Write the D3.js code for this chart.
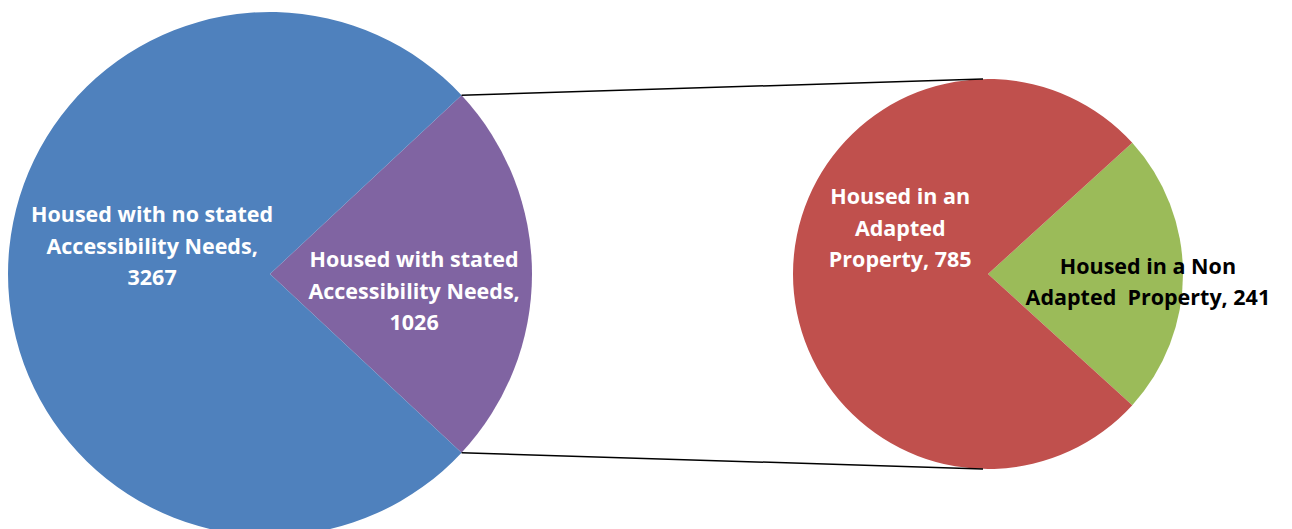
<!DOCTYPE html>
<html>
<head>
<meta charset="utf-8">
<script src="https://cdn.jsdelivr.net/npm/d3@7"></script>
<style>
  html, body { margin: 0; padding: 0; background: #fff; }
  svg { display: block; }
  .lbl { font-family: "Open Sans", "Noto Sans", sans-serif; font-weight: bold; font-size: 21.5px; }
</style>
</head>
<body>
<svg id="chart" width="1292" height="529"></svg>
<script>
// main pie
const mainCategories = ['Housed with stated Accessibility Needs', 'Housed with no stated Accessibility Needs'];
const mainValues = [1026, 3267];
const mainLabels = [
  ['Housed with stated', 'Accessibility Needs,', '1026'],
  ['Housed with no stated', 'Accessibility Needs,', '3267']
];

// breakdown pie (of the 1026)
const subCategories = ['Housed in a Non Adapted Property', 'Housed in an Adapted Property'];
const subValues = [241, 785];
const subLabels = [
  ['Housed in a Non', 'Adapted  Property, 241'],
  ['Housed in an', 'Adapted', 'Property, 785']
];

const mainColors = ['#8064A2', '#4F81BD'];
const subColors = ['#9BBB59', '#C0504D'];

const svg = d3.select('#chart');

const main = { cx: 270, cy: 274, r: 262 };
const sub = { cx: 988, cy: 274, r: 195 };

// both pies have the first slice centred on 3 o'clock
function layout(values) {
  const total = d3.sum(values);
  const first = values[0] / total * 2 * Math.PI;
  const start = Math.PI / 2 - first / 2;
  return d3.pie().sort(null).startAngle(start).endAngle(start + 2 * Math.PI)(values);
}

const mainArcs = layout(mainValues);
const subArcs = layout(subValues);

const mainArc = d3.arc().innerRadius(0).outerRadius(main.r);
const subArc = d3.arc().innerRadius(0).outerRadius(sub.r);

const gMain = svg.append('g').attr('transform', `translate(${ main.cx }, ${ main.cy })`);
const gSub = svg.append('g').attr('transform', `translate(${ sub.cx }, ${ sub.cy })`);

gMain.selectAll('path')
  .data(mainArcs)
  .enter()
  .append('path')
  .attr('d', mainArc)
  .attr('fill', (d, i) => mainColors[i]);

gSub.selectAll('path')
  .data(subArcs)
  .enter()
  .append('path')
  .attr('d', subArc)
  .attr('fill', (d, i) => subColors[i]);

// connector lines from the exploded slice edges to top / bottom of the second pie
const split = mainArcs[0];
const edge = a => [main.cx + main.r * Math.sin(a), main.cy - main.r * Math.cos(a)];
const p1 = edge(split.startAngle);
const p2 = edge(split.endAngle);
svg.append('line')
  .attr('x1', p1[0]).attr('y1', p1[1])
  .attr('x2', sub.cx - 5).attr('y2', sub.cy - sub.r)
  .attr('stroke', '#000').attr('stroke-width', 1.5);
svg.append('line')
  .attr('x1', p2[0]).attr('y1', p2[1])
  .attr('x2', sub.cx - 5).attr('y2', sub.cy + sub.r)
  .attr('stroke', '#000').attr('stroke-width', 1.5);

// labels: centroid at a fraction of the radius, nudged like Excel's best fit
const lineH = 31.5;
function addLabels(g, arcs, r, labels, place, colors) {
  arcs.forEach((d, i) => {
    const c = d3.arc().innerRadius(0).outerRadius(r * place[i].k * 2).centroid(d);
    const lines = labels[i];
    const y0 = c[1] + place[i].dy - (lines.length - 1) * lineH / 2;
    const t = g.append('text')
      .attr('class', 'lbl')
      .attr('text-anchor', 'middle')
      .attr('fill', colors[i]);
    lines.forEach((s, j) => {
      t.append('tspan')
        .attr('x', c[0] + place[i].dx)
        .attr('y', y0 + j * lineH)
        .attr('dy', '0.35em')
        .attr('xml:space', 'preserve')
        .text(s);
    });
  });
}

addLabels(gMain, mainArcs, main.r, mainLabels,
  [{ k: 0.55, dx: 0, dy: 17 }, { k: 0.45, dx: 0, dy: -28 }], ['#fff', '#fff']);
addLabels(gSub, subArcs, sub.r, subLabels,
  [{ k: 0.82, dx: 0, dy: 8 }, { k: 0.45, dx: 0, dy: -46 }], ['#000', '#fff']);
</script>
</body>
</html>
